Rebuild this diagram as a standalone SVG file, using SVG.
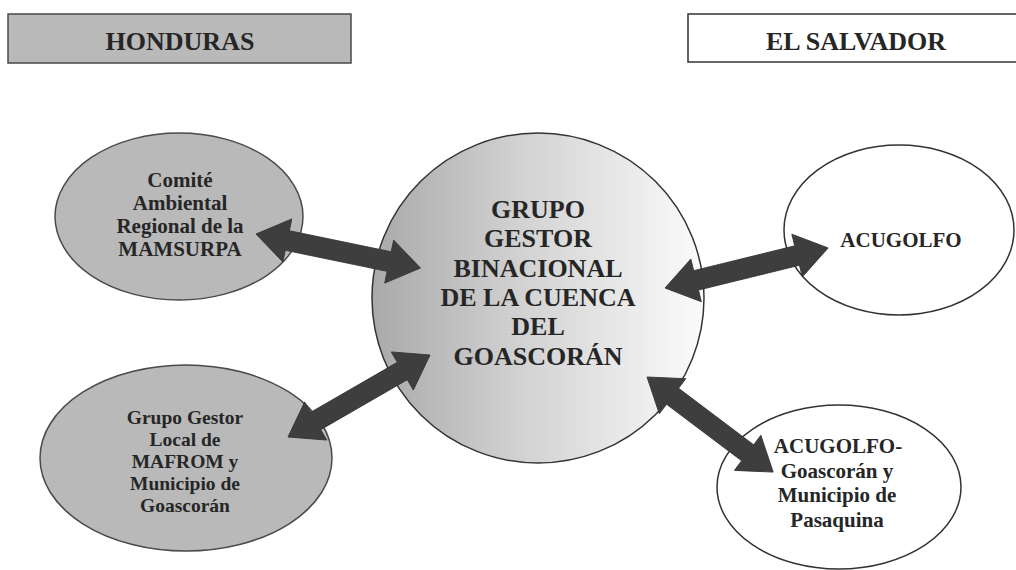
<svg xmlns="http://www.w3.org/2000/svg" width="1016" height="570" viewBox="0 0 1016 570">
  <defs>
    <style>
      .t { font-family: "Liberation Serif", "Times New Roman", serif; font-weight: bold; fill: #262626; text-anchor: middle; }
      .hdr { font-size: 26px; }
      .sm { font-size: 21px; }
      .sm2 { font-size: 19.5px; }
      .big { font-size: 26px; }
      .grayfill { fill: #b9b9b9; stroke: #4a4a4a; stroke-width: 1.5; }
      .whitefill { fill: #ffffff; stroke: #333333; stroke-width: 1.5; }
      .arrow { fill: #3e3e3e; stroke: #333333; stroke-width: 0.8; stroke-linejoin: miter; }
    </style>
    <linearGradient id="centerGrad" x1="0" y1="0" x2="1" y2="0">
      <stop offset="0" stop-color="#a9a9a9"/>
      <stop offset="0.45" stop-color="#d2d2d2"/>
      <stop offset="1" stop-color="#fbfbfb"/>
    </linearGradient>
  </defs>

  <rect width="1016" height="570" fill="#ffffff"/>

  <g id="hdr-honduras">
    <rect x="8" y="14" width="343" height="49" class="grayfill" stroke-width="2"/>
    <text x="180" y="50" class="t hdr">HONDURAS</text>
  </g>

  <g id="hdr-elsalvador">
    <rect x="688" y="14" width="340" height="48" class="whitefill" stroke="#555555" stroke-width="2"/>
    <text x="856" y="50" class="t hdr">EL SALVADOR</text>
  </g>

  <g id="node-center">
    <ellipse cx="538" cy="298" rx="166" ry="165" fill="url(#centerGrad)" stroke="#333333" stroke-width="1.5"/>
    <text class="t big" x="538" y="218">GRUPO</text>
    <text class="t big" x="538" y="247">GESTOR</text>
    <text class="t big" x="538" y="277">BINACIONAL</text>
    <text class="t big" x="538" y="306">DE LA CUENCA</text>
    <text class="t big" x="538" y="335">DEL</text>
    <text class="t big" x="538" y="365">GOASCORÁN</text>
  </g>

  <g id="node-comite">
    <ellipse cx="179" cy="216.5" rx="124" ry="83.5" class="grayfill"/>
    <text class="t sm" x="180" y="187">Comité</text>
    <text class="t sm" x="180" y="210">Ambiental</text>
    <text class="t sm" x="180" y="233">Regional de la</text>
    <text class="t sm" x="180" y="256">MAMSURPA</text>
  </g>

  <g id="node-grupo-local">
    <ellipse cx="186" cy="458" rx="146" ry="93" class="grayfill"/>
    <text class="t sm2" x="185" y="424">Grupo Gestor</text>
    <text class="t sm2" x="185" y="446">Local de</text>
    <text class="t sm2" x="185" y="468">MAFROM y</text>
    <text class="t sm2" x="185" y="490">Municipio de</text>
    <text class="t sm2" x="185" y="512">Goascorán</text>
  </g>

  <g id="node-acugolfo">
    <ellipse cx="899" cy="230" rx="115" ry="85" class="whitefill"/>
    <text class="t sm" x="901" y="247">ACUGOLFO</text>
  </g>

  <g id="node-acugolfo-goascoran">
    <ellipse cx="839" cy="487" rx="122" ry="82" class="whitefill"/>
    <text class="t sm" x="838" y="453">ACUGOLFO-</text>
    <text class="t sm" x="837" y="478">Goascorán y</text>
    <text class="t sm" x="837" y="502">Municipio de</text>
    <text class="t sm" x="837" y="527">Pasaquina</text>
  </g>

  <g id="connectors">
    <polygon class="arrow" transform="translate(256,234) rotate(11.7)" points="0,0 32,-22 32,-10 136,-10 136,-22 168,0 136,22 136,10 32,10 32,22"/>
    <polygon class="arrow" transform="translate(288,437) rotate(-30)" points="0,0 32,-22 32,-10 132,-10 132,-22 164,0 132,22 132,10 32,10 32,22"/>
    <polygon class="arrow" transform="translate(665,288) rotate(-13.8)" points="0,0 32,-22 32,-10 136,-10 136,-22 168,0 136,22 136,10 32,10 32,22"/>
    <polygon class="arrow" transform="translate(647,377) rotate(37)" points="0,0 32,-22 32,-10 126,-10 126,-22 158,0 126,22 126,10 32,10 32,22"/>
  </g>
</svg>
